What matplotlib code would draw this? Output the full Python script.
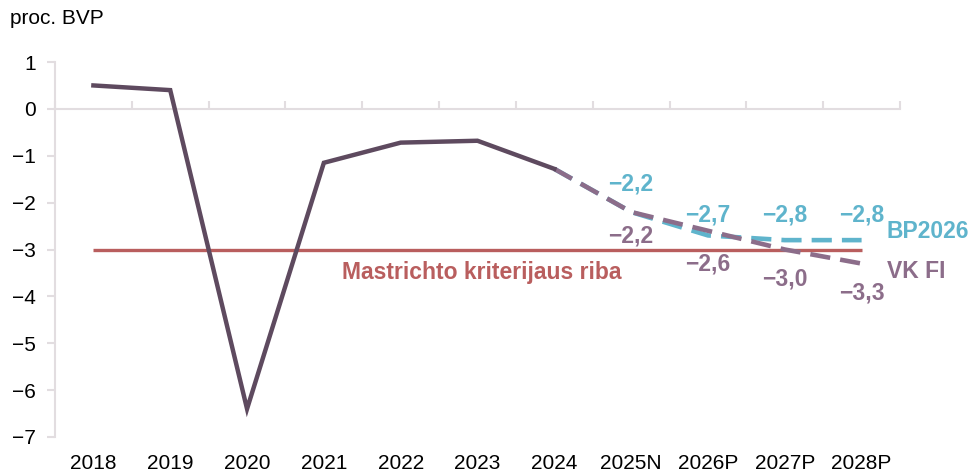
import matplotlib
matplotlib.use("Agg")
import matplotlib.pyplot as plt

plt.rcParams['font.family'] = ['Liberation Sans', 'DejaVu Sans']

categories = ["2018", "2019", "2020", "2021", "2022", "2023", "2024",
              "2025N", "2026P", "2027P", "2028P"]
actual = [0.5, 0.4, -6.4, -1.15, -0.72, -0.68, -1.28]
vkfi = [-1.28, -2.2, -2.6, -3.0, -3.3]
bp2026 = [-1.28, -2.2, -2.7, -2.8, -2.8]
vkfi_labels = ["−2,2", "−2,6", "−3,0", "−3,3"]
bp_labels = ["−2,2", "−2,7", "−2,8", "−2,8"]
maastricht = -3.0
yticks = [1, 0, -1, -2, -3, -4, -5, -6, -7]

c_main = "#5E4A5F"
c_vk = "#8C6D8A"
c_bp = "#5FB4CC"
c_red = "#B95E5E"
c_axis = "#E2DDE0"

fig = plt.figure(figsize=(9.75, 4.74), dpi=100)
ax = fig.add_axes([55/975, 1-437/474, (900-55)/975, (437-62)/474])

x_all = list(range(len(categories)))
x_act = x_all[:len(actual)]
x_fc = x_all[len(actual)-1:]

ax.plot(x_all, [maastricht]*len(categories), color=c_red, lw=2.4, solid_capstyle='butt', zorder=2)
ax.plot(x_fc, bp2026, color=c_bp, lw=3.3, dashes=(4.4, 2.2), dash_capstyle='butt', zorder=3)
ax.plot(x_fc, vkfi, color=c_vk, lw=3.3, dashes=(4.4, 2.2), dash_capstyle='butt', zorder=4)
ax.plot(x_act, actual, color=c_main, lw=3.2, solid_joinstyle='miter', zorder=5)

bp_off = [20, 14.5, 18, 18]
vk_off = [-17.5, -24, -21, -21.5]
for xi, v, t, o in zip(x_fc[1:], bp2026[1:], bp_labels, bp_off):
    ax.annotate(t, (xi, v), xytext=(0, o), textcoords='offset points',
                ha='center', va='center', color=c_bp, fontsize=16.5, fontweight='bold')
for xi, v, t, o in zip(x_fc[1:], vkfi[1:], vkfi_labels, vk_off):
    ax.annotate(t, (xi, v), xytext=(0, o), textcoords='offset points',
                ha='center', va='center', color=c_vk, fontsize=16.5, fontweight='bold')

ax.annotate("BP2026", (x_all[-1], bp2026[-1]), xytext=(18, 6), textcoords='offset points',
            ha='left', va='center', color=c_bp, fontsize=16.5, fontweight='bold', annotation_clip=False)
ax.annotate("VK FI", (x_all[-1], vkfi[-1]), xytext=(18, -6), textcoords='offset points',
            ha='left', va='center', color=c_vk, fontsize=16.5, fontweight='bold', annotation_clip=False)
ax.text(5.05, -3.49, "Mastrichto kriterijaus riba", ha='center', va='center',
        color=c_red, fontsize=16.5, fontweight='bold')

ax.set_xlim(-0.5, len(categories)-0.5)
ax.set_ylim(-7, 1)
ax.set_yticks(yticks)
ax.set_yticklabels([f"{v}".replace("-", "−") for v in yticks])
ax.set_xticks(x_all)
ax.set_xticklabels(categories)

for s in ['top', 'right', 'bottom']:
    ax.spines[s].set_visible(False)
ax.spines['left'].set_color(c_axis)
ax.spines['left'].set_linewidth(1.5)
ax.tick_params(axis='y', colors=c_axis, length=6, width=1.5, labelcolor='black', labelsize=15, pad=8)
ax.tick_params(axis='x', length=0, labelsize=15, pad=12, labelcolor='black')

sec = ax.secondary_xaxis(0.875)
for s in sec.spines.values():
    s.set_color(c_axis)
    s.set_linewidth(1.5)
sec.set_xticks([i - 0.5 for i in range(len(categories)+1)])
sec.xaxis.set_ticks_position('top')
sec.tick_params(axis='x', direction='out', length=6, width=1.5, colors=c_axis,
                labeltop=False, labelbottom=False)

fig.text(10/975, 1-18/474, "proc. BVP", ha='left', va='center', fontsize=15, color='black')

fig.savefig("out.png", dpi=100)
